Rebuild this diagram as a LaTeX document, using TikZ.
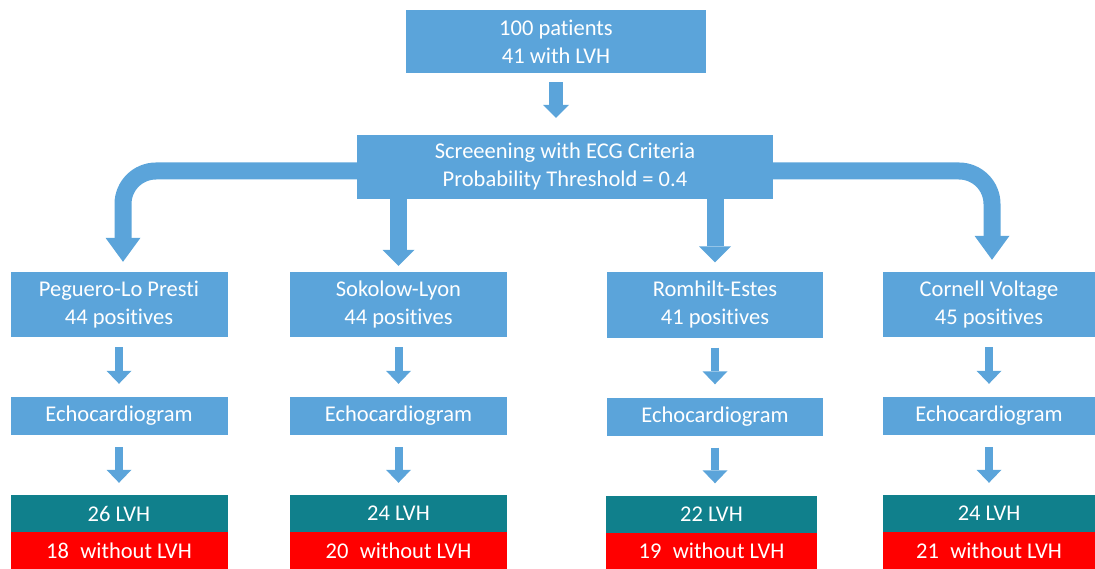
\documentclass[tikz,border=0pt]{standalone}
\usepackage{fontspec}
\setmainfont{Carlito}[Ligatures={NoCommon}]
\usetikzlibrary{arrows.meta,calc}
\definecolor{boxblue}{HTML}{5BA4DA}
\definecolor{lvhteal}{HTML}{10808C}
\definecolor{nored}{HTML}{FF0000}
\begin{document}
\begin{tikzpicture}[x=1pt,y=-1pt,
  box/.style={fill=boxblue, text=white, inner sep=0pt, align=center,
    font=\fontsize{22.5}{28}\selectfont},
  colbox/.style={box, minimum width=217pt, minimum height=65pt},
  echobox/.style={box, minimum width=217pt, minimum height=38pt},
  lvhbox/.style={box, fill=lvhteal, minimum width=217pt, minimum height=37pt},
  nobox/.style={box, fill=nored, minimum width=217pt, minimum height=37pt},
  toparr/.style={draw=boxblue, line width=14pt,
    -{Triangle[width=26pt,length=13pt,line width=0pt,fill=boxblue]}},
  bigarr/.style={draw=boxblue, line width=17pt,
    -{Triangle[width=35pt,length=24pt,line width=0pt,fill=boxblue]}},
  midarr/.style={draw=boxblue, line width=17pt,
    -{Triangle[width=32pt,length=16pt,line width=0pt,fill=boxblue]}},
  smallarr/.style={draw=boxblue, line width=8pt,
    -{Triangle[width=25pt,length=13pt,line width=0pt,fill=boxblue]}}
]
\useasboundingbox (0,0) rectangle (1095,569);

\node[box, minimum width=300pt, minimum height=63pt] (top) at (556,41.5)
  {100 patients\\41 with LVH};
\node[box, minimum width=416pt, minimum height=64pt] (screen) at (565,167)
  {Screeening with ECG Criteria\\Probability Threshold = 0.4};

\node[colbox] (c1) at (119,304.5) {Peguero-Lo Presti\\ 44 positives};
\node[colbox] (c2) at (398.5,304.5) {Sokolow-Lyon\\ 44 positives};
\node[colbox, minimum width=216pt] (c3) at (715,305) {Romhilt-Estes\\ 41 positives};
\node[colbox, minimum width=212pt] (c4) at (989,304.5) {Cornell Voltage\\ 45 positives};

\node[echobox] (e1) at (119,416) {Echocardiogram};
\node[echobox] (e2) at (398.5,416) {Echocardiogram};
\node[echobox, minimum width=216pt] (e3) at (715,416.5) {Echocardiogram};
\node[echobox, minimum width=212pt] (e4) at (989,416) {Echocardiogram};

\node[lvhbox] (l1) at (119,513.5) {26 LVH};
\node[lvhbox] (l2) at (398.5,513.5) {24 LVH};
\node[lvhbox, minimum width=211pt] (l3) at (711.5,514) {22 LVH};
\node[lvhbox, minimum width=212pt] (l4) at (989,513.5) {24 LVH};

\node[nobox] (w1) at (119,550.5) {18\enspace without LVH};
\node[nobox] (w2) at (398.5,550.5) {20\enspace without LVH};
\node[nobox, minimum width=211pt] (w3) at (711.5,551) {19\enspace without LVH};
\node[nobox, minimum width=212pt] (w4) at (989,550.5) {21\enspace without LVH};

% connectors
\draw[toparr] ($(top.south)+(0,9)$) -- ($(top.south |- screen.north)+(0,-17)$);

\draw[bigarr, rounded corners=33pt] ($(screen.west)+(5,4)$) -| ($(c1.north)+(4,-10)$);
\draw[bigarr, rounded corners=33pt] ($(screen.east)+(-5,4)$) -| ($(c4.north)+(3,-12)$);
\draw[midarr] ($(screen.south -| c2.north)+(0,-3)$) -- ($(c2.north)+(0,-6)$);
\draw[midarr] ($(screen.south -| c3.north)+(0,-3)$) -- ($(c3.north)+(0,-10)$);

\foreach \i in {1,2,3,4}{
  \draw[smallarr] ($(c\i.south)+(0,10)$) -- ($(c\i.south |- e\i.north)+(0,-13)$);
  \draw[smallarr] ($(e\i.south)+(0,12)$) -- ($(e\i.south |- l\i.north)+(0,-12)$);
}
\end{tikzpicture}
\end{document}
